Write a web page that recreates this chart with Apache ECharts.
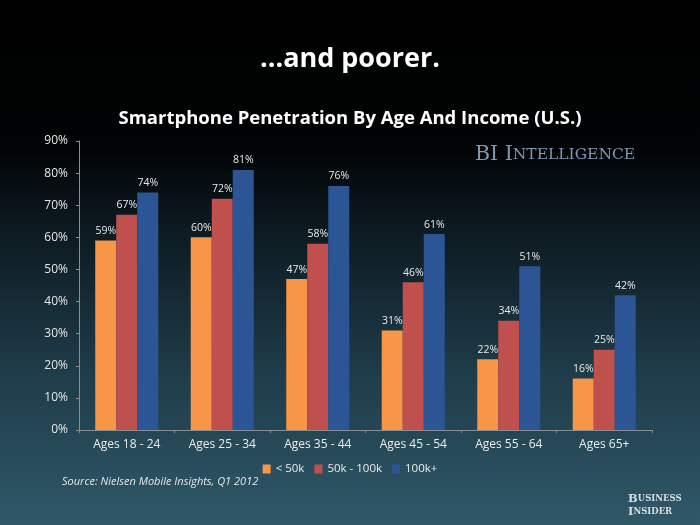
<!DOCTYPE html>
<html>
<head>
<meta charset="utf-8">
<script src="https://cdn.jsdelivr.net/npm/echarts@6/dist/echarts.min.js"></script>
<style>
  html, body { margin: 0; padding: 0; background: #000; }
  #chart { width: 700px; height: 525px; }
</style>
</head>
<body>
<div id="chart"></div>
<script>
const categories = ['Ages 18 - 24', 'Ages 25 - 34', 'Ages 35 - 44', 'Ages 45 - 54', 'Ages 55 - 64', 'Ages 65+']
const seriesNames = ['< 50k', '50k - 100k', '100k+']
const under50k = [59, 60, 47, 31, 22, 16]
const from50to100k = [67, 72, 58, 46, 34, 25]
const over100k = [74, 81, 76, 61, 51, 42]
const colors = ['#f79646', '#c0504d', '#2b5594']

const font = '"Open Sans", sans-serif'
const chart = echarts.init(document.getElementById('chart'))

function bar (name, data, color) {
  return {
    name: name,
    type: 'bar',
    data: data,
    barGap: '0%',
    barCategoryGap: '34%',
    itemStyle: { color: color },
    label: {
      show: true,
      position: 'top',
      distance: 4,
      color: '#e8e8e8',
      fontSize: 10.5,
      fontFamily: font,
      formatter: '{c}%'
    }
  }
}

chart.setOption({
  backgroundColor: {
    type: 'linear', x: 0, y: 0, x2: 0, y2: 1,
    colorStops: [
      { offset: 0, color: '#000000' },
      { offset: 0.28, color: '#010304' },
      { offset: 0.4, color: '#0a151b' },
      { offset: 0.7, color: '#1e3b48' },
      { offset: 1, color: '#2f5868' }
    ]
  },
  textStyle: { fontFamily: font },
  title: [
    {
      text: '...and poorer.',
      left: 'center',
      top: 41,
      textStyle: { color: '#ffffff', fontSize: 27, fontWeight: 'bold', fontFamily: font }
    },
    {
      text: 'Smartphone Penetration By Age And Income (U.S.)',
      left: 'center',
      top: 104,
      textStyle: { color: '#ffffff', fontSize: 18.5, fontWeight: 'bold', fontFamily: font }
    }
  ],
  graphic: [
    {
      type: 'text',
      left: 475,
      top: 144,
      style: {
        text: '{b|BI I}{s|NTELLIGENCE}',
        rich: {
          b: { fill: '#8198b6', font: '20.5px "DejaVu Serif", serif' },
          s: { fill: '#8198b6', font: '15.5px "DejaVu Serif", serif' }
        }
      }
    },
    {
      type: 'text',
      left: 62,
      top: 476,
      style: {
        text: 'Source: Nielsen Mobile Insights, Q1 2012',
        fill: '#e6e6e6',
        font: 'italic 11px "Open Sans", sans-serif'
      }
    },
    {
      type: 'text',
      left: 628,
      top: 493,
      style: {
        text: '{b|B}{s|USINESS}\n{b|I}{s|NSIDER}',
        rich: {
          b: { fill: '#d8dde0', font: 'bold 11.5px "DejaVu Serif", serif', lineHeight: 13 },
          s: { fill: '#d8dde0', font: 'bold 8.5px "DejaVu Serif", serif', lineHeight: 13 }
        }
      }
    }
  ],
  legend: {
    data: seriesNames,
    top: 458,
    left: 'center',
    itemWidth: 8,
    itemHeight: 9,
    itemGap: 10,
    icon: 'rect',
    textStyle: { color: '#ececec', fontSize: 11.5, fontFamily: font }
  },
  grid: { left: 79, right: 48, top: 141, bottom: 95 },
  xAxis: {
    type: 'category',
    data: categories,
    axisLine: { lineStyle: { color: '#8a8f93' } },
    axisTick: { show: true, length: 3, lineStyle: { color: '#8a8f93' } },
    axisLabel: { color: '#ececec', fontSize: 12, margin: 9, fontFamily: font }
  },
  yAxis: {
    type: 'value',
    min: 0,
    max: 90,
    interval: 10,
    axisLine: { show: true, lineStyle: { color: '#8a8f93' } },
    axisTick: { show: true, length: 3, lineStyle: { color: '#8a8f93' } },
    splitLine: { show: false },
    axisLabel: { color: '#e6e6e6', fontSize: 12, margin: 11, formatter: '{value}%', fontFamily: font }
  },
  series: [
    bar(seriesNames[0], under50k, colors[0]),
    bar(seriesNames[1], from50to100k, colors[1]),
    bar(seriesNames[2], over100k, colors[2])
  ]
})
</script>
</body>
</html>
